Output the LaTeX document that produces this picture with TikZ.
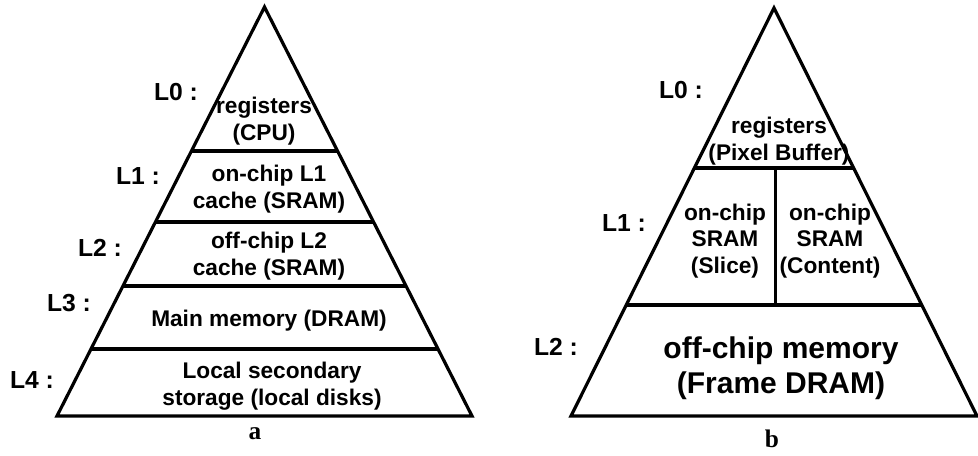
\documentclass[tikz,border=0pt]{standalone}
\usepackage{fontspec}
\setmainfont{Liberation Sans}
\newfontfamily\captionserif{Liberation Serif}
\usetikzlibrary{calc}
\begin{document}
\begin{tikzpicture}[x=0.75pt,y=-0.75pt,
  edge/.style={line width=2.4pt,line join=miter,line cap=butt},
  cell/.style={font=\fontsize{17}{19.8}\selectfont\bfseries,align=center,inner sep=0pt},
  bigcell/.style={font=\fontsize{22.5}{26}\selectfont\bfseries,align=center,inner sep=0pt},
  level/.style={font=\fontsize{18.5}{20}\selectfont\bfseries,inner sep=0pt},
  panel/.style={font=\fontsize{19}{22}\selectfont\captionserif\bfseries,inner sep=0pt}]
\useasboundingbox (0,0) rectangle (978,455);

% ---------- (a) general memory hierarchy ----------
\coordinate (aTop) at (264.5,7);
\coordinate (aBL) at (57,416);
\coordinate (aBR) at (472,416);
\draw[edge] (aTop) -- (aBL) -- (aBR) -- cycle;
\foreach \t/\n in {0.352/1,0.5257/2,0.682/3,0.836/4}{
  \coordinate (aL\n) at ($(aTop)!\t!(aBL)$);
  \coordinate (aR\n) at ($(aTop)!\t!(aBR)$);
  \draw[edge] (aL\n) -- (aR\n);
}
\node[cell] (aReg) at (264,121) {registers\\(CPU)};
\node[cell] (aL1c) at (269,189) {on-chip L1\\cache (SRAM)};
\node[cell] (aL2c) at (269,256) {off-chip L2\\cache (SRAM)};
\node[cell] (aMain) at (269,321) {Main memory (DRAM)};
\node[cell] (aDisk) at (272,386) {Local secondary\\storage (local disks)};
\node[level] (aLv0) at (176,92) {L0 :};
\node[level] (aLv1) at (138,176) {L1 :};
\node[level] (aLv2) at (100,248) {L2 :};
\node[level] (aLv3) at (69,303) {L3 :};
\node[level] (aLv4) at (32,380) {L4 :};
\node[panel] (aCap) at (255,434) {a};

% ---------- (b) video-processing memory hierarchy ----------
\coordinate (bTop) at (774,8);
\coordinate (bBL) at (571,416);
\coordinate (bBR) at (977,416);
\draw[edge] (bTop) -- (bBL) -- (bBR) -- cycle;
\foreach \t/\n in {0.392/1,0.728/2}{
  \coordinate (bL\n) at ($(bTop)!\t!(bBL)$);
  \coordinate (bR\n) at ($(bTop)!\t!(bBR)$);
  \draw[edge] (bL\n) -- (bR\n);
}
\coordinate (bMidTop) at ($(bL1)!0.51!(bR1)$);
\coordinate (bMidBot) at (bMidTop |- bL2);
\draw[edge] (bMidTop) -- (bMidBot);
\node[cell] (bReg) at (779,141) {registers\\(Pixel Buffer)};
\node[cell] (bSlice) at (725,241) {on-chip\\SRAM\\(Slice)};
\node[cell] (bCont) at (830,241) {on-chip\\SRAM\\(Content)};
\node[bigcell] (bFrame) at (781,368) {off-chip memory\\(Frame DRAM)};
\node[level] (bLv0) at (681,90) {L0 :};
\node[level] (bLv1) at (624,223) {L1 :};
\node[level] (bLv2) at (556,347) {L2 :};
\node[panel] (bCap) at (772,439) {b};
\end{tikzpicture}
\end{document}
